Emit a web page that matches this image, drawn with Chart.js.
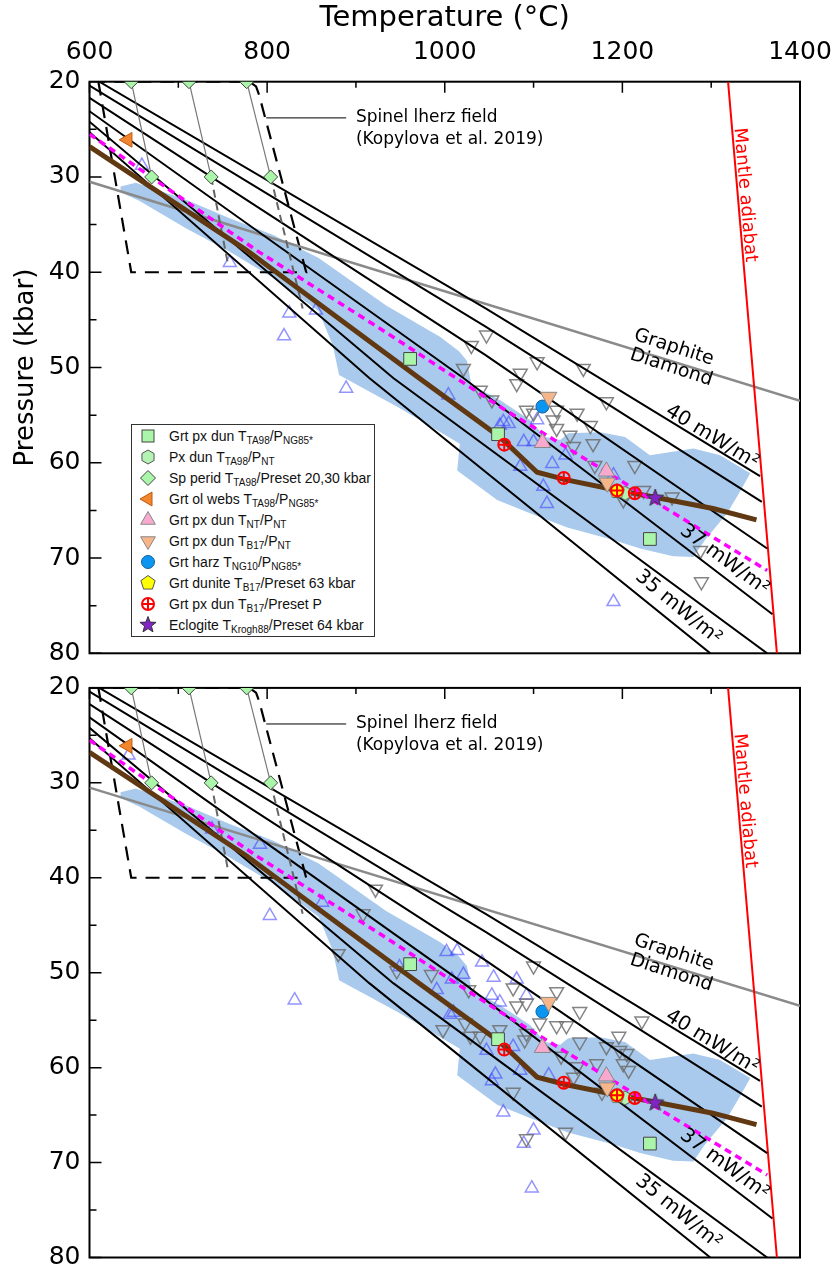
<!DOCTYPE html>
<html lang="en">
<head>
<meta charset="UTF-8">
<title>Geotherm P-T plot</title>
<script src="https://cdn.jsdelivr.net/npm/chart.js"></script>
<style>
  body { margin: 0; background: white; }
  #wrap { position: relative; width: 834px; height: 1268px; overflow: hidden; }
  #c1 { position: absolute; left: 0; top: 0; }
  #c2 { position: absolute; left: 0; top: 660px; }
  .legend {
    position: absolute; left: 131px; top: 424px; width: 244px; height: 213px;
    border: 1.5px solid #333; background: white; box-sizing: border-box;
    font-family: 'Liberation Sans', Arial, sans-serif; font-size: 14px; color: #111;
  }
  .legend div { height: 21px; display: flex; align-items: center; white-space: nowrap; }
  .legend svg { width: 18px; height: 18px; margin-left: 7px; margin-right: 12px; flex: none; }
  .legend sub { font-size: 10px; vertical-align: -3px; line-height: 0; }
</style>
</head>
<body>
<div id="wrap">
  <canvas id="c1" width="834" height="675"></canvas>
  <canvas id="c2" width="834" height="608"></canvas>
  <div class="legend" id="legend"></div>
</div>

<script>
// axis ticks
const T_TICKS = [600, 800, 1000, 1200, 1400];
const T_MINOR = [700, 900, 1100, 1300];
const P_TICKS = [20, 30, 40, 50, 60, 70, 80];
const P_MINOR = [25, 35, 45, 55, 65, 75];

// geotherms [T, P]
const GEO_40 = [[611, 20], [1046, 43.8], [1355, 61.4]];
const GEO_39 = [[600, 20.4], [1046, 45.7], [1357, 64.1]];
const GEO_38 = [[600, 21.7], [1046, 48.7], [1363, 69.0]];
const GEO_37 = [[600, 23.1], [1021, 51.1], [1369, 75.9]];
const GEO_36 = [[600, 24.2], [942, 51.1], [1363, 80]];
const GEO_35 = [[600, 25.3], [915, 51.1], [1299, 80]];
const FIT_GEOTHERM = [[600, 26.8], [777, 37.7], [971, 51.1], [1062, 57.3], [1104, 61.0], [1137, 61.8],
                      [1190, 62.8], [1235, 63.6], [1302, 64.8], [1351, 66.0]];
const MAGENTA_GEOTHERM = [[600, 25.5], [788, 37.7], [927, 45.9], [1062, 54.1], [1160, 59.7], [1363, 71.3]];
const GRAPHITE_DIAMOND = [[600, 30.5], [1400, 53.5]];
const MANTLE_ADIABAT = [[1319, 20], [1374, 80]];
const SPINEL_FIELD = [[610, 20], [647, 40], [844, 40], [791, 21.4], [787.5, 20.5], [780, 20], [610, 20]];
const SPINEL_LEADER = [[799, 23.8], [889, 23.8]];
const SP_LINKS = [
  [[647, 20], [670, 30]],
  [[712, 20], [737, 30]],
  [[777, 20], [804, 30]]
];
const SP_DASHED = [
  [[737, 30], [756, 39.2]],
  [[804, 30], [840, 43.8]]
];

// shaded xenolith field
const XENO_FIELD = [[635, 31.0], [652, 30.6], [709, 32.4], [757, 34.3], [807, 36.1], [858, 38.5], [934, 43.5],
  [995, 46.8], [1016, 48.3], [1025, 49.3], [1030, 51.8], [1062, 53.4], [1096, 55.5], [1113, 57.3],
  [1130, 57.6], [1139, 56.9], [1175, 56.8], [1203, 57.3], [1231, 59.2], [1280, 58.5], [1310, 59.2],
  [1344, 61.1], [1332, 63.1], [1318, 65.3], [1293, 68.1], [1280, 69.9], [1257, 69.8], [1220, 69.0],
  [1190, 68.1], [1138, 66.8], [1096, 65.3], [1059, 63.9], [1014, 60.8], [1017, 58.0], [950, 54.3],
  [881, 50.8], [874, 47.7], [858, 44.1], [807, 40.6], [757, 37.8], [709, 35.4], [656, 32.5], [635, 31.6],
  [635, 31.0]];

// samples [T, P]
const GRT_PX_DUN = [[961, 49.1], [1060, 57.0], [1231, 68.0]];
const PX_DUN = [[1203, 63.2]];
const SP_PERID = [[647, 20], [712, 20], [777, 20], [670, 30], [737, 30], [804, 30]];
const GRT_OL_WEBS = [[643, 26.1]];
const GRT_PX_DUN_NT = [[1110, 57.9], [1182, 60.9]];
const GRT_PX_DUN_B17 = [[1117, 53.1], [1183, 62.1]];
const GRT_HARZ = [[1110, 54.1]];
const GRT_DUNITE = [[1194, 63.0]];
const GRT_PX_DUN_PRESET = [[1067, 58.1], [1134, 61.6], [1194, 62.9], [1214, 63.2]];
const ECLOGITE = [[1237, 63.7]];

// background data, upper panel
const BLUE_TRI_TOP = [[659, 28.8], [758, 39.0], [825, 44.3], [855, 44.0], [819, 46.7], [889, 52.2], [1004, 52.9],
  [1066, 55.7], [1072, 55.9], [1104, 55.5], [1089, 57.8], [1100, 57.8], [1085, 60.4], [1121, 60.1],
  [1136, 59.2], [1111, 62.5], [1115, 64.3], [1190, 74.6], [1190, 61.3], [1062, 56.1]];
const GRAY_TRI_TOP = [[1047, 46.6], [1030, 47.7], [1104, 49.4], [1021, 50.1], [1085, 50.6], [1156, 50.1],
  [1081, 51.7], [1040, 52.4], [1053, 53.4], [1092, 54.5], [1126, 54.5], [1149, 54.8], [1182, 53.6],
  [1122, 55.5], [1126, 56.4], [1164, 56.1], [1141, 57.1], [1167, 58.0], [1145, 58.3], [1214, 60.3],
  [1169, 60.3], [1201, 63.9], [1224, 62.9], [1256, 63.6], [1288, 69.2], [1289, 72.5], [1100, 54.8]];

// background data, lower panel
const BLUE_TRI_BOT = [[644, 27.1], [738, 34.9], [792, 36.5], [803, 44.0], [831, 52.9], [862, 42.6], [949, 49.4],
  [1002, 47.8], [1014, 47.7], [1042, 48.9], [1055, 50.5], [1021, 50.2], [1008, 50.7], [991, 51.8],
  [1010, 54.2], [1053, 52.4], [1081, 50.7], [1092, 52.4], [1062, 53.1], [1006, 54.4], [1047, 58.2],
  [1077, 57.8], [1057, 60.7], [1085, 60.3], [1053, 61.4], [1117, 60.8], [1066, 64.7], [1100, 66.6],
  [1089, 68.0], [1098, 72.7]];
const GRAY_TRI_BOT = [[1100, 49.3], [946, 49.8], [985, 50.2], [1027, 51.8], [1077, 51.6], [1126, 52.0],
  [1092, 53.2], [1081, 53.5], [1152, 54.1], [1222, 55.1], [998, 56.0], [1023, 55.3], [1062, 56.0],
  [1092, 56.4], [1107, 55.3], [1126, 55.6], [1137, 55.6], [1029, 56.7], [1040, 56.7], [1090, 57.1],
  [1152, 57.3], [1196, 56.7], [1182, 57.8], [1197, 58.2], [1205, 58.5], [1201, 59.6], [1207, 60.3],
  [1171, 59.6], [1131, 58.8], [1149, 59.9], [1145, 61.0], [1177, 62.6], [1077, 62.6], [1136, 66.8],
  [1092, 67.5], [922, 41.2], [908, 43.8], [880, 48.0]];

const FONT = '"DejaVu Sans", Verdana, sans-serif';

// text annotations, anchored in data space
const NOTES = [
  { text: '40 mW/m²', t: 1301, p: 57.3, angle: 31.5, size: 20 },
  { text: '37 mW/m²', t: 1315, p: 70.2, angle: 36.5, size: 20 },
  { text: '35 mW/m²', t: 1263, p: 75.2, angle: 39.5, size: 20 },
  { text: 'Graphite', t: 1258, p: 47.9, angle: 18, size: 19 },
  { text: 'Diamond', t: 1255, p: 50.0, angle: 18, size: 19 },
  { text: 'Mantle adiabat', t: 1338, p: 31.9, angle: 85, size: 18, color: '#ff0000' },
  { text: 'Spinel lherz field', t: 900, p: 23.8, angle: 0, size: 17, align: 'left' },
  { text: '(Kopylova et al. 2019)', t: 900, p: 26.1, angle: 0, size: 17, align: 'left' }
];

function shapeCanvas(n, r, fill, stroke, inner) {
  const s = Math.ceil(2 * r + 4);
  const c = document.createElement('canvas');
  c.width = s; c.height = s;
  const g = c.getContext('2d');
  g.translate(s / 2, s / 2);
  g.beginPath();
  const k = inner ? 2 * n : n;
  for (let i = 0; i < k; i++) {
    const rr = inner && i % 2 ? inner : r;
    const a = -Math.PI / 2 + i * 2 * Math.PI / k;
    g.lineTo(rr * Math.cos(a), rr * Math.sin(a));
  }
  g.closePath();
  g.fillStyle = fill; g.fill();
  g.strokeStyle = stroke; g.lineWidth = 1; g.stroke();
  return c;
}
const pentagon = shapeCanvas(5, 7.5, '#ffff00', '#555');
const hexagon = shapeCanvas(6, 7, '#b3f3b3', '#555');
const star = shapeCanvas(5, 9, '#8224c4', '#333', 3.8);

const pts = arr => arr.map(p => ({ x: p[0], y: p[1] }));

function lineDs(data, color, width, dash, order) {
  return { data: pts(data), showLine: true, borderColor: color, borderWidth: width, borderDash: dash || [],
           pointRadius: 0, fill: false, tension: 0, order: order };
}
function markDs(data, style, r, fill, stroke, bw, order, rot) {
  return { data: pts(data), showLine: false, pointStyle: style, pointRadius: r,
           backgroundColor: fill, borderColor: stroke, pointBackgroundColor: fill, pointBorderColor: stroke,
           pointBorderWidth: bw, pointRotation: rot || 0, order: order };
}

function datasets(blueTri, grayTri) {
  const ds = [];
  ds.push({ data: pts(XENO_FIELD), showLine: true, fill: 'shape', backgroundColor: '#a9caec',
            borderWidth: 0, borderColor: 'rgba(0,0,0,0)', pointRadius: 0, tension: 0, order: 100 });
  ds.push(markDs(blueTri, 'triangle', 7.5, 'rgba(0,0,0,0)', 'rgba(60,60,255,0.55)', 1.5, 90));
  ds.push(markDs(grayTri, 'triangle', 8, 'rgba(0,0,0,0)', 'rgba(110,110,110,0.85)', 1.5, 89, 180));
  ds.push(lineDs(SPINEL_FIELD, '#000', 2.2, [14, 9], 60));
  ds.push(lineDs(GRAPHITE_DIAMOND, '#8a8a8a', 2.5, null, 55));
  [GEO_40, GEO_39, GEO_38, GEO_37, GEO_36, GEO_35].forEach(g => ds.push(lineDs(g, '#000', 2, null, 50)));
  ds.push(lineDs(MANTLE_ADIABAT, '#ff0000', 2, null, 50));
  SP_LINKS.forEach(l => ds.push(lineDs(l, '#777', 1.2, null, 45)));
  SP_DASHED.forEach(l => ds.push(lineDs(l, '#666', 2, [8, 5], 45)));
  ds.push(lineDs(FIT_GEOTHERM, '#603913', 5, null, 42));
  ds.push(lineDs(MAGENTA_GEOTHERM, '#ff00ff', 3.5, [7, 5], 41));
  ds.push(lineDs(SPINEL_LEADER, '#000', 1, null, 40));
  ds.push(markDs(PX_DUN, hexagon, 7, '#b3f3b3', '#555', 1, 9));
  ds.push(markDs(GRT_DUNITE, pentagon, 7, '#ffff00', '#555', 1, 8));
  ds.push(markDs(GRT_PX_DUN, 'rect', 9, '#aaf5aa', '#444', 1, 7));
  ds.push(markDs(SP_PERID, 'rectRot', 7, '#aaf5aa', '#444', 1, 6));
  ds.push(markDs(GRT_OL_WEBS, 'triangle', 8.5, '#f0862d', '#c05a10', 1, 6, 270));
  ds.push(markDs(GRT_PX_DUN_NT, 'triangle', 9.5, '#f7aacd', '#888', 1, 5));
  ds.push(markDs(GRT_PX_DUN_B17, 'triangle', 9.5, '#f7b58a', '#888', 1, 5, 180));
  ds.push(markDs(GRT_HARZ, 'circle', 6.5, '#0a96f0', '#15609e', 1, 5));
  ds.push(markDs(GRT_PX_DUN_PRESET, 'circle', 6, 'rgba(0,0,0,0)', '#ff0000', 2, 3));
  ds.push(markDs(GRT_PX_DUN_PRESET, 'cross', 6, '#ff0000', '#ff0000', 2, 2));
  ds.push(markDs(ECLOGITE, star, 8, '#8224c4', '#333', 1, 1));
  return ds;
}

const framePlugin = {
  id: 'frame',
  beforeDatasetsDraw(chart) {
    const { ctx, chartArea: a, scales: { x, y } } = chart;
    ctx.save();
    ctx.strokeStyle = '#000';
    ctx.lineWidth = 2;
    ctx.strokeRect(a.left, a.top, a.right - a.left, a.bottom - a.top);
    ctx.lineWidth = 1.5;
    ctx.beginPath();
    T_TICKS.forEach(t => { const px = x.getPixelForValue(t); ctx.moveTo(px, a.top); ctx.lineTo(px, a.top + 11); });
    T_MINOR.forEach(t => { const px = x.getPixelForValue(t); ctx.moveTo(px, a.top); ctx.lineTo(px, a.top + 6); });
    P_TICKS.forEach(p => { const py = y.getPixelForValue(p); ctx.moveTo(a.left, py); ctx.lineTo(a.left + 12, py); });
    P_MINOR.forEach(p => { const py = y.getPixelForValue(p); ctx.moveTo(a.left, py); ctx.lineTo(a.left + 7, py); });
    ctx.stroke();
    ctx.restore();
  }
};

const notesPlugin = {
  id: 'notes',
  afterDatasetsDraw(chart) {
    const { ctx, scales: { x, y } } = chart;
    NOTES.forEach(n => {
      ctx.save();
      ctx.translate(x.getPixelForValue(n.t), y.getPixelForValue(n.p));
      ctx.rotate(n.angle * Math.PI / 180);
      ctx.font = n.size + 'px ' + FONT;
      ctx.fillStyle = n.color || '#000';
      ctx.textAlign = n.align || 'center';
      ctx.textBaseline = 'middle';
      ctx.fillText(n.text, 0, 0);
      ctx.restore();
    });
  }
};

function makeChart(id, blueTri, grayTri, upper) {
  const canvas = document.getElementById(id);
  const plotTop = upper ? 81.7 : 27.9;
  const plotBottom = upper ? 653.3 : 599.1;
  return new Chart(canvas, {
    type: 'scatter',
    data: { datasets: datasets(blueTri, grayTri) },
    options: {
      responsive: false,
      animation: false,
      events: [],
      layout: { padding: { left: 0, top: 0, right: 34, bottom: canvas.height - plotBottom } },
      plugins: { legend: { display: false }, tooltip: { enabled: false } },
      scales: {
        x: {
          type: 'linear', position: 'top', min: 600, max: 1400,
          grid: { display: false, drawTicks: false }, border: { display: false },
          ticks: { display: upper, stepSize: 200, padding: 14, color: '#000',
                   font: { family: FONT, size: 25 }, callback: v => String(v) },
          title: { display: upper, text: 'Temperature (°C)', color: '#000',
                   font: { family: FONT, size: 29 }, padding: { top: 1, bottom: 0 } },
          afterFit: s => { s.height = plotTop; s.paddingLeft = 0; s.paddingRight = 0; }
        },
        y: {
          type: 'linear', reverse: true, min: 20, max: 80,
          grid: { display: false, drawTicks: false }, border: { display: false },
          ticks: { stepSize: 10, padding: 9, color: '#000', autoSkip: false,
                   font: { family: FONT, size: 25 } },
          title: { display: upper, text: 'Pressure (kbar)', color: '#000',
                   font: { family: FONT, size: 26 }, padding: { top: 11, bottom: 0 } },
          afterFit: s => { s.width = 89.5; s.paddingTop = 0; s.paddingBottom = 0; }
        }
      }
    },
    plugins: [framePlugin, notesPlugin]
  });
}

makeChart('c1', BLUE_TRI_TOP, GRAY_TRI_TOP, true);
makeChart('c2', BLUE_TRI_BOT, GRAY_TRI_BOT, false);

// legend (html so the subscripts stay real text)
function svgPoly(n, r, fill, stroke, inner, rot) {
  const k = inner ? 2 * n : n;
  const p = [];
  for (let i = 0; i < k; i++) {
    const rr = inner && i % 2 ? inner : r;
    const a = (rot || -90) * Math.PI / 180 + i * 2 * Math.PI / k;
    p.push((9 + rr * Math.cos(a)).toFixed(2) + ',' + (9 + rr * Math.sin(a)).toFixed(2));
  }
  return `<svg viewBox="0 0 18 18"><polygon points="${p.join(' ')}" fill="${fill}" stroke="${stroke}" stroke-width="1"/></svg>`;
}
const LEGEND_ROWS = [
  [`<svg viewBox="0 0 18 18"><rect x="3" y="3" width="12" height="12" fill="#aaf5aa" stroke="#444"/></svg>`,
   'Grt px dun T<sub>TA98</sub>/P<sub>NG85*</sub>'],
  [svgPoly(6, 7, '#b3f3b3', '#555'), 'Px dun T<sub>TA98</sub>/P<sub>NT</sub>'],
  [svgPoly(4, 7.5, '#aaf5aa', '#444'), 'Sp perid T<sub>TA98</sub>/Preset 20,30 kbar'],
  [svgPoly(3, 8, '#f0862d', '#c05a10', 0, 180), 'Grt ol webs T<sub>TA98</sub>/P<sub>NG85*</sub>'],
  [svgPoly(3, 8.5, '#f7aacd', '#888'), 'Grt px dun T<sub>NT</sub>/P<sub>NT</sub>'],
  [svgPoly(3, 8.5, '#f7b58a', '#888', 0, 90), 'Grt px dun T<sub>B17</sub>/P<sub>NT</sub>'],
  [`<svg viewBox="0 0 18 18"><circle cx="9" cy="9" r="6.5" fill="#0a96f0" stroke="#15609e"/></svg>`,
   'Grt harz T<sub>NG10</sub>/P<sub>NG85*</sub>'],
  [svgPoly(5, 7.5, '#ffff00', '#555'), 'Grt dunite T<sub>B17</sub>/Preset 63 kbar'],
  [`<svg viewBox="0 0 18 18"><circle cx="9" cy="9" r="6" fill="#fff" stroke="#ff0000" stroke-width="2"/><path d="M3 9H15M9 3V15" stroke="#ff0000" stroke-width="2"/></svg>`,
   'Grt px dun T<sub>B17</sub>/Preset P'],
  [svgPoly(5, 8.5, '#8224c4', '#333', 3.6), 'Eclogite T<sub>Krogh88</sub>/Preset 64 kbar']
];
document.getElementById('legend').innerHTML =
  LEGEND_ROWS.map(r => `<div>${r[0]}<span>${r[1]}</span></div>`).join('');
</script>
</body>
</html>
